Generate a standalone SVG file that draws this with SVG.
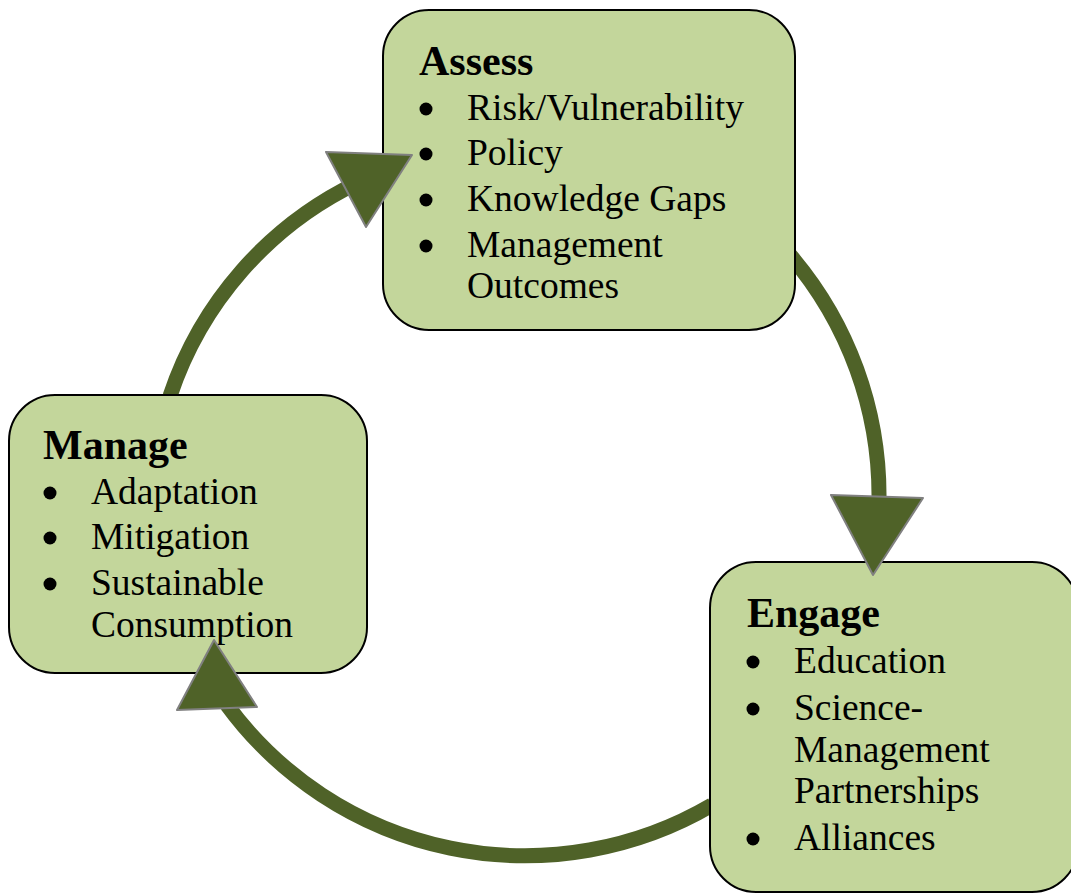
<svg xmlns="http://www.w3.org/2000/svg" width="1071" height="895" viewBox="0 0 1071 895">
<style>
.box{fill:#c3d69b;stroke:#000;stroke-width:2}
.t{font-family:"Liberation Serif","Times New Roman",serif;fill:#000}
.h{font-size:42px;font-weight:bold}
.b{font-size:37.5px}
.dot{fill:#000}
.arc{fill:none;stroke:#4f6228;stroke-width:15}
.head{fill:#4f6228;stroke:#808080;stroke-width:2;stroke-linejoin:round}
</style>
<rect width="1071" height="895" fill="#fff"/>
<g id="connector-lines">
<path class="arc" d="M170,396 A365,365 0 0 1 357,183"/>
<path class="arc" d="M790,255 A370,370 0 0 1 879,500"/>
<path class="arc" d="M712,805 A370,370 0 0 1 227,705"/>
</g>
<g id="node-assess">
<rect class="box" x="383" y="10" width="412" height="320" rx="46"/>
<text class="t h" x="419" y="75">Assess</text>
<circle class="dot" cx="426" cy="109" r="6.5"/><text class="t b" x="467" y="120">Risk/Vulnerability</text>
<circle class="dot" cx="426" cy="154" r="6.5"/><text class="t b" x="467" y="165">Policy</text>
<circle class="dot" cx="426" cy="200" r="6.5"/><text class="t b" x="467" y="211">Knowledge Gaps</text>
<circle class="dot" cx="426" cy="246" r="6.5"/><text class="t b" x="467" y="257">Management</text>
<text class="t b" x="467" y="298">Outcomes</text>
</g>
<g id="node-manage">
<rect class="box" x="9" y="395" width="358" height="278" rx="46"/>
<text class="t h" x="43" y="459">Manage</text>
<circle class="dot" cx="50" cy="493" r="6.5"/><text class="t b" x="91" y="504">Adaptation</text>
<circle class="dot" cx="50" cy="538" r="6.5"/><text class="t b" x="91" y="549">Mitigation</text>
<circle class="dot" cx="50" cy="584" r="6.5"/><text class="t b" x="91" y="595">Sustainable</text>
<text class="t b" x="91" y="637">Consumption</text>
</g>
<g id="node-engage">
<rect class="box" x="710" y="562" width="368" height="330" rx="46"/>
<text class="t h" x="747" y="627">Engage</text>
<circle class="dot" cx="753" cy="662" r="6.5"/><text class="t b" x="794" y="673">Education</text>
<circle class="dot" cx="753" cy="709" r="6.5"/><text class="t b" x="794" y="720">Science-</text>
<text class="t b" x="794" y="762">Management</text>
<text class="t b" x="794" y="803">Partnerships</text>
<circle class="dot" cx="753" cy="839" r="6.5"/><text class="t b" x="794" y="850">Alliances</text>
</g>
<g id="connector-heads">
<polygon class="head" points="326,152 412,155 366,227"/>
<polygon class="head" points="831,495 923,498 873,575"/>
<polygon class="head" points="214,640 177,710 257,707"/>
</g>
</svg>
